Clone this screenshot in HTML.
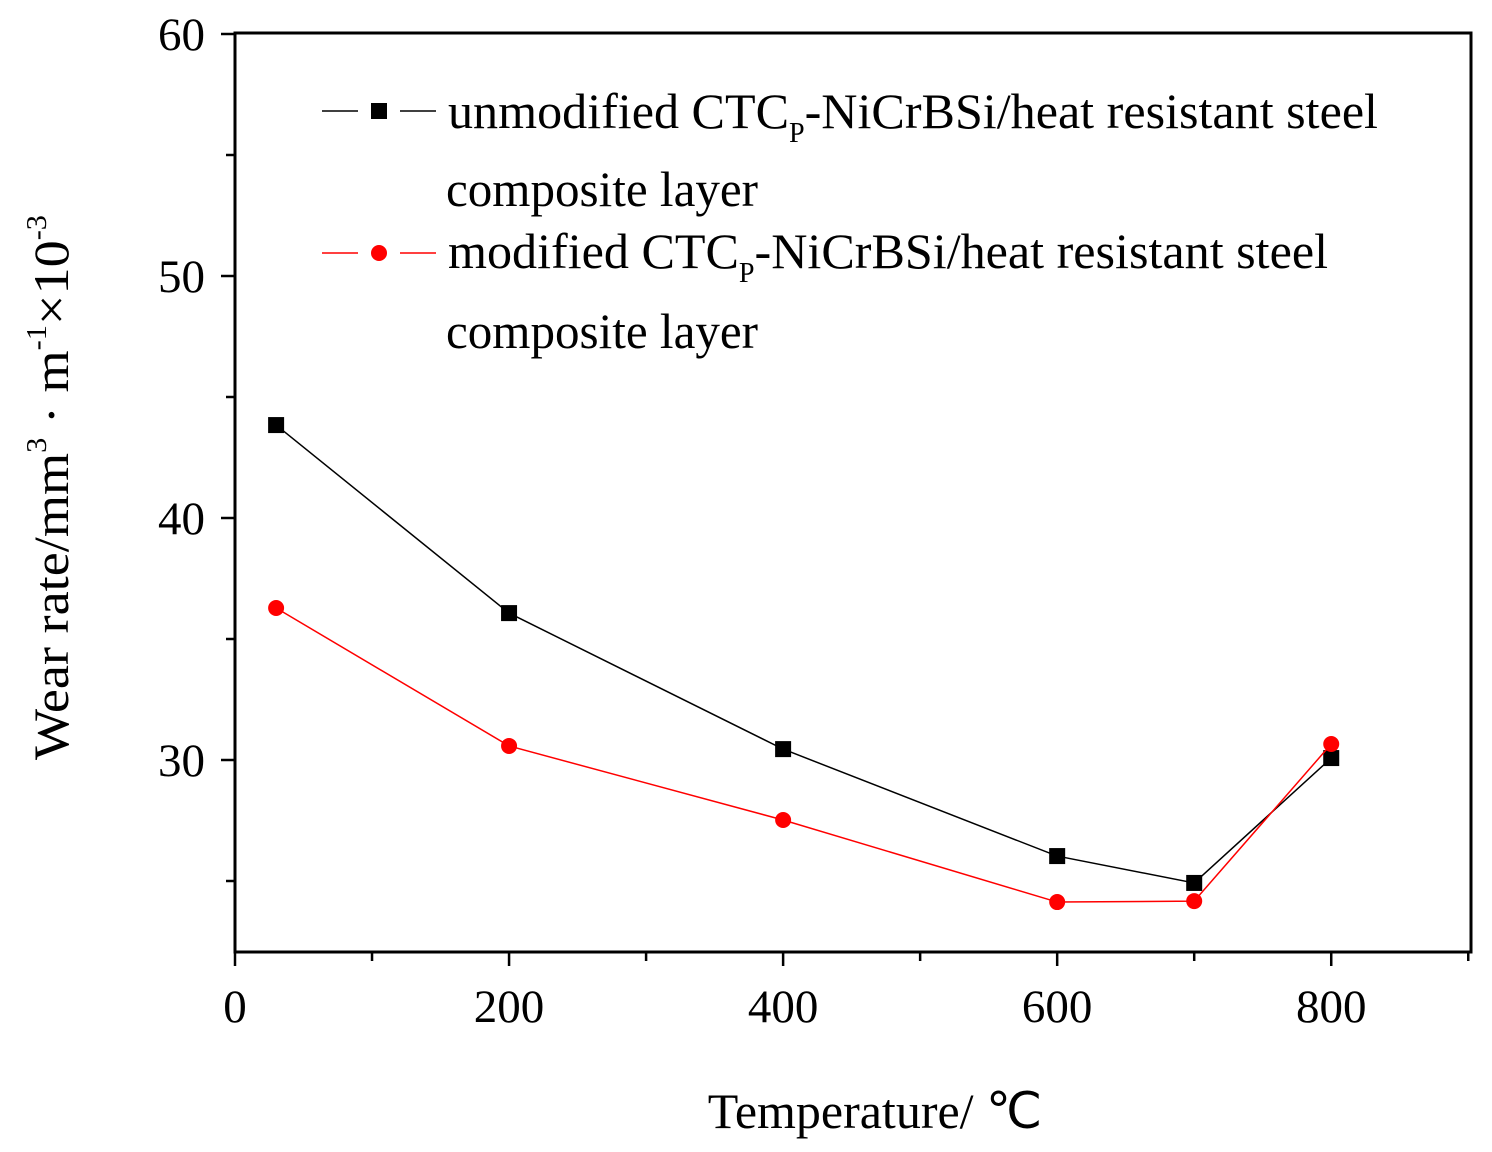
<!DOCTYPE html>
<html><head><meta charset="utf-8"><style>
body{margin:0;background:#fff;}
svg{display:block;font-family:"Liberation Serif",serif;}
</style></head><body>
<svg id="chart" width="1492" height="1152">
<g id="axes"></g><g id="series"></g>
<g font-size="50">
  <line x1="322" y1="111" x2="358" y2="111" stroke="#000" stroke-width="1.5"/>
  <line x1="400" y1="111" x2="436" y2="111" stroke="#000" stroke-width="1.5"/>
  <rect x="371" y="103" width="16" height="16" fill="#000"/>
  <text x="448" y="128" textLength="930" lengthAdjust="spacingAndGlyphs">unmodified CTC<tspan font-size="28" dy="14">P</tspan><tspan dy="-14">-NiCrBSi/heat resistant steel</tspan></text>
  <text x="446" y="206" textLength="312" lengthAdjust="spacingAndGlyphs">composite layer</text>
  <line x1="322" y1="253" x2="358" y2="253" stroke="#f00" stroke-width="1.5"/>
  <line x1="400" y1="253" x2="436" y2="253" stroke="#f00" stroke-width="1.5"/>
  <circle cx="379" cy="253" r="8" fill="#f00"/>
  <text x="448" y="268" textLength="880" lengthAdjust="spacingAndGlyphs">modified CTC<tspan font-size="28" dy="14">P</tspan><tspan dy="-14">-NiCrBSi/heat resistant steel</tspan></text>
  <text x="446" y="348" textLength="312" lengthAdjust="spacingAndGlyphs">composite layer</text>
</g>
<text x="875" y="1128" font-size="50" text-anchor="middle">Temperature/ ℃</text>
<text transform="translate(68,760) rotate(-90)" font-size="50" textLength="545" lengthAdjust="spacingAndGlyphs">Wear rate/mm<tspan font-size="28" dy="-22">3</tspan><tspan dy="22"> · m</tspan><tspan font-size="28" dy="-22">-1</tspan><tspan dy="22">×10</tspan><tspan font-size="28" dy="-22">-3</tspan></text>
</svg>
<script>
const temps=[30,200,400,600,700,800];
const unmodified=[43.84,36.07,30.45,26.03,24.92,30.08];
const modified=[36.28,30.58,27.52,24.13,24.17,30.66];
const xTicks=[0,200,400,600,800];
const xMinor=[100,300,500,700,900];
const yTicks=[30,40,50,60];
const yMinor=[25,35,45,55];
const L=235,R=1471,T=33,B=952;
const X=v=>L+(v-0)/(902-0)*(R-L);
const Y=v=>760+(30-v)*24.2;
const NS="http://www.w3.org/2000/svg";
function mk(tag,attrs,parent){const e=document.createElementNS(NS,tag);for(const k in attrs)e.setAttribute(k,attrs[k]);parent.appendChild(e);return e;}
const ax=document.getElementById('axes');
let f=mk('rect',{x:L,y:T,width:R-L,height:B-T,fill:'none',stroke:'#000','stroke-width':3},ax);


xTicks.forEach(v=>{
 let t=mk('line',{x1:X(v),x2:X(v),y1:B,y2:B+14,stroke:'#000','stroke-width':2.5},ax);
 
 
 let l=mk('text',{x:X(v),y:B+70,'font-size':47,'text-anchor':'middle'},ax);l.textContent=v;
 
 
});
xMinor.forEach(v=>{
 let t=mk('line',{x1:X(v),x2:X(v),y1:B,y2:B+9,stroke:'#000','stroke-width':2.5},ax);
 
 
});
yTicks.forEach(v=>{
 let t=mk('line',{x1:L-14,x2:L,y1:Y(v),y2:Y(v),stroke:'#000','stroke-width':2.5},ax);
 
 
 let l=mk('text',{x:L-30,y:Y(v)+16,'font-size':47,'text-anchor':'end'},ax);l.textContent=v;
 
 
});
yMinor.forEach(v=>{
 let t=mk('line',{x1:L-9,x2:L,y1:Y(v),y2:Y(v),stroke:'#000','stroke-width':2.5},ax);
 
 
});
const sg=document.getElementById('series');
function draw(vals,color,shape,name){
 let p=mk('polyline',{points:temps.map((t,i)=>X(t)+','+Y(vals[i])).join(' '),fill:'none',stroke:color,'stroke-width':1.5},sg);
 
 
 temps.forEach((t,i)=>{
  let m;
  if(shape==='sq')m=mk('rect',{x:X(t)-8,y:Y(vals[i])-8,width:16,height:16,fill:color},sg);
  else m=mk('circle',{cx:X(t),cy:Y(vals[i]),r:8,fill:color},sg);
  
  
 });
}
draw(unmodified,'#000','sq','unmodified');
draw(modified,'#f00','ci','modified');
</script>
</body></html>
